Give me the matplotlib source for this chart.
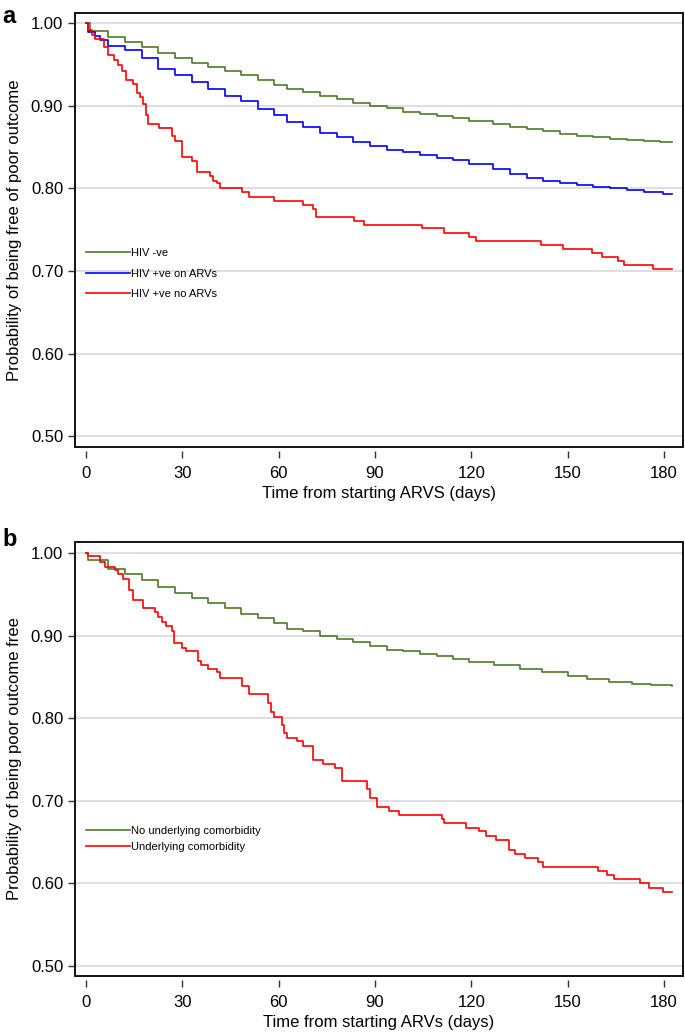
import matplotlib.pyplot as plt
from matplotlib.patches import Rectangle

# ---- panel a: HIV status ----
a_neg_days = [0, 1.2, 6.9, 12, 17.3, 22.5, 27.7, 32.9, 38.1, 43.3, 48.4, 53.5, 58.6,
              62.5, 67.7, 72.9, 78.1, 83.2, 88.4, 93.6, 98.8, 104, 109.2, 114.4, 119.4,
              126.8, 132, 137.2, 142.4, 147.6, 152.8, 158, 163.2, 168.4, 173.6, 178.8, 182.6]
a_neg_surv = [1.000, 0.991, 0.983, 0.977, 0.971, 0.964, 0.958, 0.952, 0.947, 0.942, 0.937,
              0.931, 0.925, 0.921, 0.917, 0.912, 0.908, 0.904, 0.900, 0.897, 0.893, 0.890,
              0.888, 0.885, 0.882, 0.878, 0.875, 0.872, 0.869, 0.866, 0.864, 0.862, 0.860,
              0.859, 0.857, 0.856, 0.856]

a_arv_days = [0, 0.7, 2.8, 4.5, 6.9, 12.1, 17.3, 22.5, 27.7, 32.9, 38.1, 43.3, 48.4, 53.7,
              58.6, 62.5, 67.7, 72.9, 78.1, 83.2, 88.4, 93.6, 98.8, 104, 109.2, 114.4,
              119.4, 126.8, 132, 137.2, 142.4, 147.6, 152.8, 158, 163.2, 168.4, 173.6,
              179.8, 182.6]
a_arv_surv = [1.000, 0.990, 0.985, 0.980, 0.973, 0.968, 0.958, 0.945, 0.937, 0.929, 0.921,
              0.912, 0.906, 0.896, 0.889, 0.881, 0.875, 0.867, 0.862, 0.856, 0.852, 0.847,
              0.844, 0.840, 0.837, 0.834, 0.829, 0.824, 0.817, 0.813, 0.809, 0.806, 0.804,
              0.802, 0.800, 0.798, 0.796, 0.793, 0.793]

a_noarv_days = [0, 0.7, 1.8, 2.8, 5.7, 6.8, 8.8, 10.1, 11.1, 12.4, 14.7, 15.8, 16.8, 17.8,
                18.6, 19.4, 22.7, 26.9, 27.7, 29.8, 32.9, 34.5, 38.6, 39.6, 40.7, 41.7,
                48.5, 50.8, 58.5, 67.7, 70.8, 71.6, 83.5, 86.7, 104.7, 111.5, 119.4, 121.4,
                141.6, 148.5, 157.6, 160.6, 165.5, 167.6, 176.5, 182.6]
a_noarv_surv = [1.000, 0.992, 0.986, 0.981, 0.971, 0.961, 0.956, 0.949, 0.942, 0.931, 0.926,
                0.916, 0.911, 0.902, 0.889, 0.878, 0.873, 0.863, 0.857, 0.838, 0.833, 0.820,
                0.815, 0.809, 0.806, 0.800, 0.796, 0.790, 0.785, 0.780, 0.775, 0.766, 0.761,
                0.756, 0.752, 0.746, 0.741, 0.736, 0.732, 0.727, 0.722, 0.717, 0.712, 0.707,
                0.703, 0.703]

# ---- panel b: comorbidity ----
b_none_days = [0, 0.5, 6.9, 12.1, 17.3, 22.5, 27.7, 32.9, 38.1, 43.3, 48.4, 53.7, 58.6, 62.5,
               67.7, 72.9, 78.1, 83.2, 88.4, 93.6, 98.8, 104, 109.2, 114.4, 119.4, 127, 135,
               142, 150, 156, 163, 170, 176, 182.6]
b_none_surv = [1.000, 0.992, 0.981, 0.974, 0.967, 0.959, 0.952, 0.945, 0.939, 0.933, 0.926,
               0.921, 0.915, 0.908, 0.905, 0.900, 0.896, 0.892, 0.888, 0.883, 0.881, 0.878,
               0.875, 0.872, 0.868, 0.864, 0.860, 0.856, 0.851, 0.847, 0.844, 0.842, 0.840,
               0.839]

b_como_days = [0, 0.7, 4.4, 5.9, 9.0, 9.9, 11.6, 13.4, 14.7, 17.8, 21.5, 22.5, 23.8, 24.8,
               26.9, 27.5, 30.0, 31.0, 34.8, 35.8, 37.9, 40.7, 41.7, 48.5, 50.8, 56.8, 57.6,
               58.5, 60.9, 61.8, 62.5, 65.6, 67.7, 70.8, 73.7, 77.5, 79.6, 87.6, 88.4, 90.5,
               94.5, 97.6, 110.8, 111.5, 118.4, 122.5, 124.6, 127.7, 131.7, 133.6, 136.7,
               140.6, 142.4, 159.5, 162.3, 164.4, 172.5, 175.4, 179.6, 182.6]
b_como_surv = [1.000, 0.996, 0.989, 0.983, 0.979, 0.975, 0.969, 0.955, 0.943, 0.933, 0.928,
               0.923, 0.917, 0.912, 0.906, 0.891, 0.885, 0.881, 0.869, 0.865, 0.860, 0.856,
               0.849, 0.839, 0.829, 0.818, 0.808, 0.802, 0.792, 0.782, 0.776, 0.772, 0.766,
               0.750, 0.745, 0.740, 0.724, 0.714, 0.703, 0.693, 0.688, 0.683, 0.678, 0.673,
               0.667, 0.663, 0.657, 0.652, 0.641, 0.636, 0.631, 0.626, 0.620, 0.615, 0.610,
               0.605, 0.600, 0.595, 0.590, 0.590]

x_ticks = [0, 30, 60, 90, 120, 150, 180]
y_ticks = [0.50, 0.60, 0.70, 0.80, 0.90, 1.00]

GREEN = "#4e7a27"
BLUE = "#0000ff"
RED = "#ff0000"

plt.rcParams["font.family"] = ["Liberation Sans", "DejaVu Sans"]

fig = plt.figure(figsize=(6.85, 10.32), dpi=100)
ax_a = fig.add_axes([0.1095, 0.5669, 0.8876, 0.4208])
ax_b = fig.add_axes([0.1095, 0.0543, 0.8876, 0.4208])


def style_axes(ax, ylim, ylabel, xlabel):
    ax.set_xlim(-3.43, 185.9)
    ax.set_ylim(*ylim)
    ax.set_xticks(x_ticks)
    ax.set_yticks(y_ticks)
    ax.set_yticklabels([f"{v:.2f}" for v in y_ticks])
    for s in ax.spines.values():
        s.set_color("none")
    ax.spines["bottom"].set_position(("outward", 3))
    ax.add_patch(Rectangle((0, 0), 1, 1, transform=ax.transAxes, fill=False,
                           lw=1.3, ec="black", clip_on=False, zorder=5))
    ax.grid(axis="y", color="#dcdcdc", lw=1.3)
    ax.set_axisbelow(True)
    ax.tick_params(axis="both", labelsize=12, length=5, width=1, color="#333333",
                   direction="out")
    ax.tick_params(axis="x", pad=6)
    ax.set_ylabel(ylabel, fontsize=12, labelpad=6)
    ax.set_xlabel(xlabel, fontsize=12, labelpad=3)


ax_a.step(a_neg_days, a_neg_surv, where="post", color=GREEN, lw=1.2, label="HIV -ve")
ax_a.step(a_arv_days, a_arv_surv, where="post", color=BLUE, lw=1.2, label="HIV +ve on ARVs")
ax_a.step(a_noarv_days, a_noarv_surv, where="post", color=RED, lw=1.2, label="HIV +ve no ARVs")
style_axes(ax_a, (0.487, 1.0128), "Probability of being free of poor outcome",
           "Time from starting ARVS (days)")
ax_a.legend(loc="upper left", bbox_to_anchor=(0.01, 0.468), frameon=False, fontsize=8,
            handlelength=4.0, handletextpad=0.1, labelspacing=0.95, borderaxespad=0)

ax_b.step(b_none_days, b_none_surv, where="post", color=GREEN, lw=1.2,
          label="No underlying comorbidity")
ax_b.step(b_como_days, b_como_surv, where="post", color=RED, lw=1.2,
          label="Underlying comorbidity")
style_axes(ax_b, (0.488, 1.0137), "Probability of being poor outcome free",
           "Time from starting ARVs (days)")
ax_b.legend(loc="upper left", bbox_to_anchor=(0.01, 0.355), frameon=False, fontsize=8,
            handlelength=4.0, handletextpad=0.1, labelspacing=0.55, borderaxespad=0)

fig.text(0.003, 0.995, "a", fontsize=17, fontweight="bold", va="top")
fig.text(0.003, 0.488, "b", fontsize=17, fontweight="bold", va="top")

fig.savefig("out.png", dpi=100)
